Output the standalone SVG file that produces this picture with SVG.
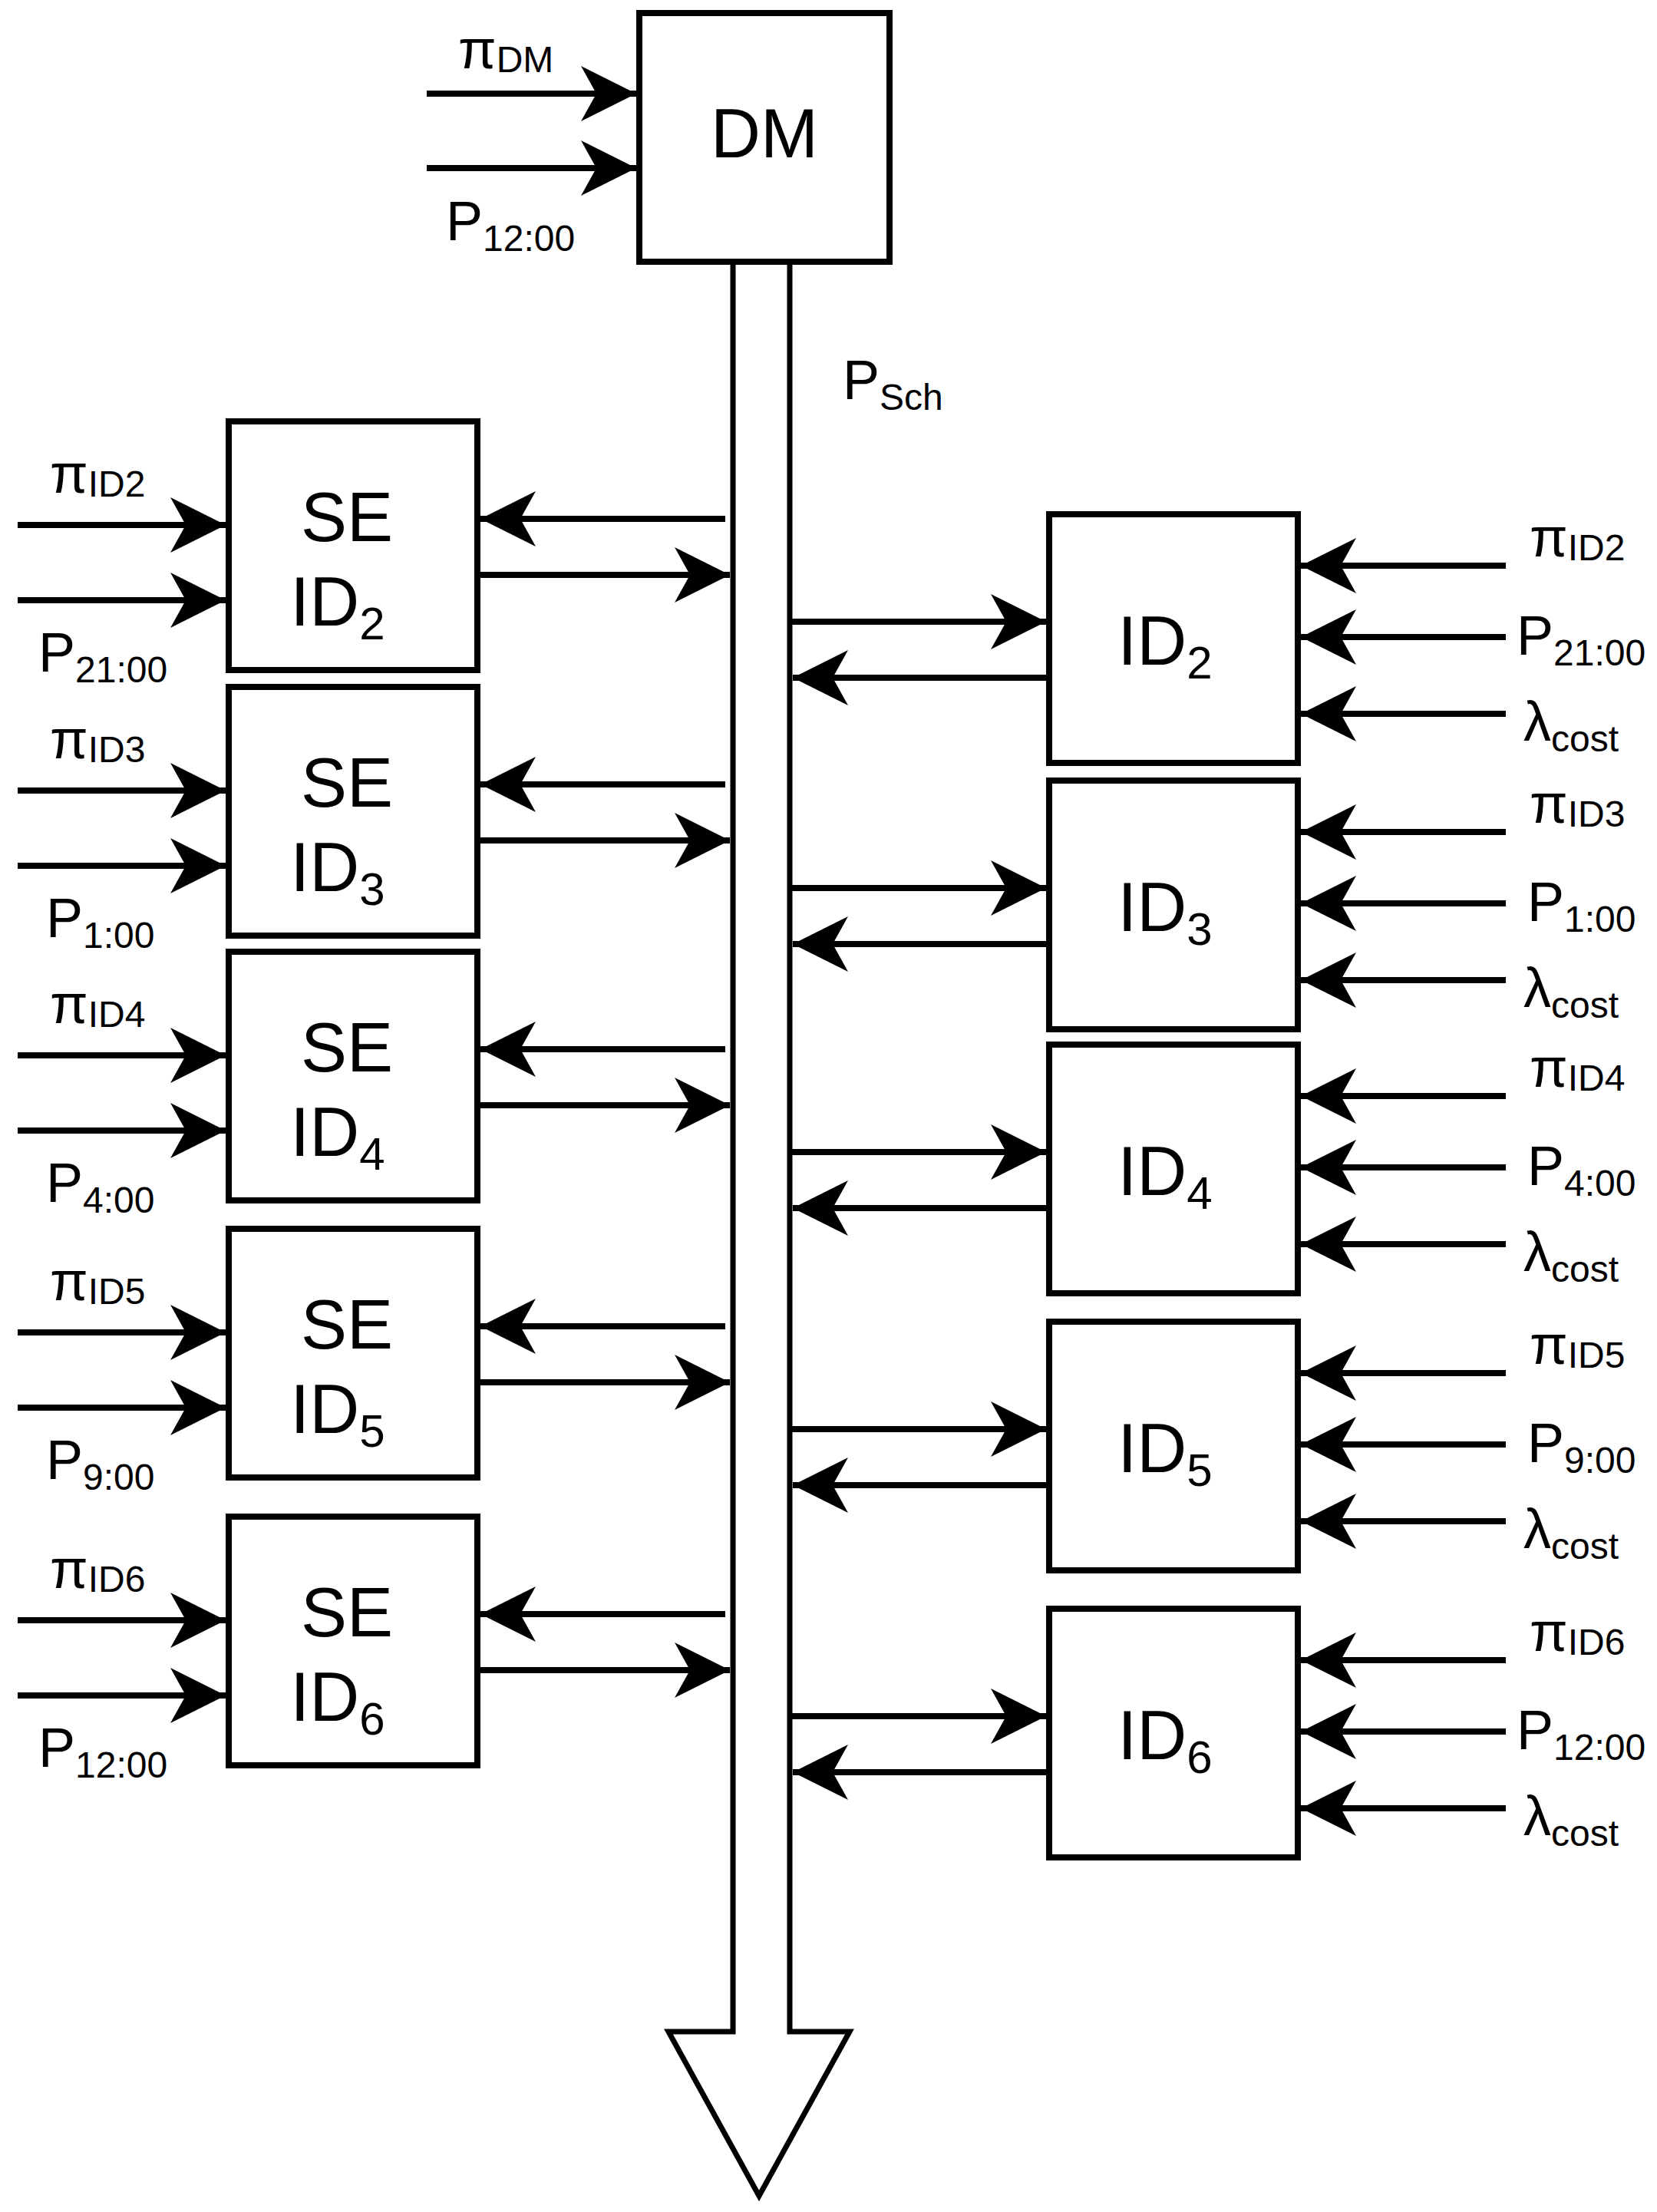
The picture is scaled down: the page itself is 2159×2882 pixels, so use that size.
<svg xmlns="http://www.w3.org/2000/svg" width="2159" height="2882" viewBox="0 0 2159 2882">
<style>
.box{fill:#fff;stroke:#000;stroke-width:8}
.ar{stroke:#000;stroke-width:8;fill:none;marker-end:url(#ah)}
text{font-family:"Liberation Sans",Arial,sans-serif;fill:#000}
.lbl{font-size:72px}
.big{font-size:90px;text-anchor:middle}
.sub{font-size:48px}
.bsub{font-size:60px}
</style>
<defs>
<marker id="ah" markerUnits="userSpaceOnUse" markerWidth="80" markerHeight="80" viewBox="-75 -40 80 80" refX="0" refY="0" orient="auto">
<path d="M0 0 L-72 -36 L-52 0 L-72 36 Z" fill="#000"/>
</marker>
</defs>
<g id="bus">
<path d="M955 341 V2647 H871 L989 2861 L1107 2647 H1029 V341" fill="#fff" stroke="#000" stroke-width="7"/>
<text class="lbl" x="1098" y="520">P<tspan class="sub" dy="14">Sch</tspan></text>
</g>
<g id="DM">
<rect class="box" x="833" y="17" width="326" height="324"/>
<text class="big" x="996" y="205" font-size="88">DM</text>
<text class="lbl" x="597" y="89">π<tspan class="sub" dy="5">DM</tspan></text>
<text class="lbl" x="581" y="313">P<tspan class="sub" dy="14">12:00</tspan></text>
</g>
<g id="connectors">
<line class="ar" x1="556" y1="122" x2="829" y2="122"/>
<line class="ar" x1="556" y1="219" x2="829" y2="219"/>
</g>
<g id="SE_ID2" transform="translate(0,549)">
<rect class="box" x="298" y="0" width="324" height="324"/>
<text class="big" x="452" y="156">SE</text>
<text class="big" x="440" y="266">ID<tspan class="bsub" dy="18">2</tspan></text>
<text class="lbl" x="65" y="93">π<tspan class="sub" dy="5">ID2</tspan></text>
<text class="lbl" x="50" y="326">P<tspan class="sub" dy="14">21:00</tspan></text>
<line class="ar" x1="23" y1="135" x2="294" y2="135"/>
<line class="ar" x1="23" y1="233" x2="294" y2="233"/>
<line class="ar" x1="945" y1="127" x2="626" y2="127"/>
<line class="ar" x1="622" y1="200" x2="951" y2="200"/>
</g>
<g id="SE_ID3" transform="translate(0,895)">
<rect class="box" x="298" y="0" width="324" height="324"/>
<text class="big" x="452" y="156">SE</text>
<text class="big" x="440" y="266">ID<tspan class="bsub" dy="18">3</tspan></text>
<text class="lbl" x="65" y="93">π<tspan class="sub" dy="5">ID3</tspan></text>
<text class="lbl" x="60" y="326">P<tspan class="sub" dy="14">1:00</tspan></text>
<line class="ar" x1="23" y1="135" x2="294" y2="135"/>
<line class="ar" x1="23" y1="233" x2="294" y2="233"/>
<line class="ar" x1="945" y1="127" x2="626" y2="127"/>
<line class="ar" x1="622" y1="200" x2="951" y2="200"/>
</g>
<g id="SE_ID4" transform="translate(0,1240)">
<rect class="box" x="298" y="0" width="324" height="324"/>
<text class="big" x="452" y="156">SE</text>
<text class="big" x="440" y="266">ID<tspan class="bsub" dy="18">4</tspan></text>
<text class="lbl" x="65" y="93">π<tspan class="sub" dy="5">ID4</tspan></text>
<text class="lbl" x="60" y="326">P<tspan class="sub" dy="14">4:00</tspan></text>
<line class="ar" x1="23" y1="135" x2="294" y2="135"/>
<line class="ar" x1="23" y1="233" x2="294" y2="233"/>
<line class="ar" x1="945" y1="127" x2="626" y2="127"/>
<line class="ar" x1="622" y1="200" x2="951" y2="200"/>
</g>
<g id="SE_ID5" transform="translate(0,1601)">
<rect class="box" x="298" y="0" width="324" height="324"/>
<text class="big" x="452" y="156">SE</text>
<text class="big" x="440" y="266">ID<tspan class="bsub" dy="18">5</tspan></text>
<text class="lbl" x="65" y="93">π<tspan class="sub" dy="5">ID5</tspan></text>
<text class="lbl" x="60" y="326">P<tspan class="sub" dy="14">9:00</tspan></text>
<line class="ar" x1="23" y1="135" x2="294" y2="135"/>
<line class="ar" x1="23" y1="233" x2="294" y2="233"/>
<line class="ar" x1="945" y1="127" x2="626" y2="127"/>
<line class="ar" x1="622" y1="200" x2="951" y2="200"/>
</g>
<g id="SE_ID6" transform="translate(0,1976)">
<rect class="box" x="298" y="0" width="324" height="324"/>
<text class="big" x="452" y="156">SE</text>
<text class="big" x="440" y="266">ID<tspan class="bsub" dy="18">6</tspan></text>
<text class="lbl" x="65" y="93">π<tspan class="sub" dy="5">ID6</tspan></text>
<text class="lbl" x="50" y="326">P<tspan class="sub" dy="14">12:00</tspan></text>
<line class="ar" x1="23" y1="135" x2="294" y2="135"/>
<line class="ar" x1="23" y1="233" x2="294" y2="233"/>
<line class="ar" x1="945" y1="127" x2="626" y2="127"/>
<line class="ar" x1="622" y1="200" x2="951" y2="200"/>
</g>
<g id="ID2" transform="translate(0,670)">
<rect class="box" x="1367" y="0" width="324" height="324"/>
<text class="big" x="1518" y="196">ID<tspan class="bsub" dy="18">2</tspan></text>
<line class="ar" x1="1029" y1="140" x2="1363" y2="140"/>
<line class="ar" x1="1367" y1="213" x2="1033" y2="213"/>
<line class="ar" x1="1962" y1="67" x2="1695" y2="67"/>
<line class="ar" x1="1962" y1="160" x2="1695" y2="160"/>
<line class="ar" x1="1962" y1="260" x2="1695" y2="260"/>
<text class="lbl" x="1993" y="55">π<tspan class="sub" dy="5">ID2</tspan></text>
<text class="lbl" x="1976" y="183">P<tspan class="sub" dy="14">21:00</tspan></text>
<text class="lbl" x="1985" y="295">λ<tspan class="sub" dy="14">cost</tspan></text>
</g>
<g id="ID3" transform="translate(0,1017)">
<rect class="box" x="1367" y="0" width="324" height="324"/>
<text class="big" x="1518" y="196">ID<tspan class="bsub" dy="18">3</tspan></text>
<line class="ar" x1="1029" y1="140" x2="1363" y2="140"/>
<line class="ar" x1="1367" y1="213" x2="1033" y2="213"/>
<line class="ar" x1="1962" y1="67" x2="1695" y2="67"/>
<line class="ar" x1="1962" y1="160" x2="1695" y2="160"/>
<line class="ar" x1="1962" y1="260" x2="1695" y2="260"/>
<text class="lbl" x="1993" y="55">π<tspan class="sub" dy="5">ID3</tspan></text>
<text class="lbl" x="1990" y="183">P<tspan class="sub" dy="14">1:00</tspan></text>
<text class="lbl" x="1985" y="295">λ<tspan class="sub" dy="14">cost</tspan></text>
</g>
<g id="ID4" transform="translate(0,1361)">
<rect class="box" x="1367" y="0" width="324" height="324"/>
<text class="big" x="1518" y="196">ID<tspan class="bsub" dy="18">4</tspan></text>
<line class="ar" x1="1029" y1="140" x2="1363" y2="140"/>
<line class="ar" x1="1367" y1="213" x2="1033" y2="213"/>
<line class="ar" x1="1962" y1="67" x2="1695" y2="67"/>
<line class="ar" x1="1962" y1="160" x2="1695" y2="160"/>
<line class="ar" x1="1962" y1="260" x2="1695" y2="260"/>
<text class="lbl" x="1993" y="55">π<tspan class="sub" dy="5">ID4</tspan></text>
<text class="lbl" x="1990" y="183">P<tspan class="sub" dy="14">4:00</tspan></text>
<text class="lbl" x="1985" y="295">λ<tspan class="sub" dy="14">cost</tspan></text>
</g>
<g id="ID5" transform="translate(0,1722)">
<rect class="box" x="1367" y="0" width="324" height="324"/>
<text class="big" x="1518" y="196">ID<tspan class="bsub" dy="18">5</tspan></text>
<line class="ar" x1="1029" y1="140" x2="1363" y2="140"/>
<line class="ar" x1="1367" y1="213" x2="1033" y2="213"/>
<line class="ar" x1="1962" y1="67" x2="1695" y2="67"/>
<line class="ar" x1="1962" y1="160" x2="1695" y2="160"/>
<line class="ar" x1="1962" y1="260" x2="1695" y2="260"/>
<text class="lbl" x="1993" y="55">π<tspan class="sub" dy="5">ID5</tspan></text>
<text class="lbl" x="1990" y="183">P<tspan class="sub" dy="14">9:00</tspan></text>
<text class="lbl" x="1985" y="295">λ<tspan class="sub" dy="14">cost</tspan></text>
</g>
<g id="ID6" transform="translate(0,2096)">
<rect class="box" x="1367" y="0" width="324" height="324"/>
<text class="big" x="1518" y="196">ID<tspan class="bsub" dy="18">6</tspan></text>
<line class="ar" x1="1029" y1="140" x2="1363" y2="140"/>
<line class="ar" x1="1367" y1="213" x2="1033" y2="213"/>
<line class="ar" x1="1962" y1="67" x2="1695" y2="67"/>
<line class="ar" x1="1962" y1="160" x2="1695" y2="160"/>
<line class="ar" x1="1962" y1="260" x2="1695" y2="260"/>
<text class="lbl" x="1993" y="55">π<tspan class="sub" dy="5">ID6</tspan></text>
<text class="lbl" x="1976" y="183">P<tspan class="sub" dy="14">12:00</tspan></text>
<text class="lbl" x="1985" y="295">λ<tspan class="sub" dy="14">cost</tspan></text>
</g>
</svg>
